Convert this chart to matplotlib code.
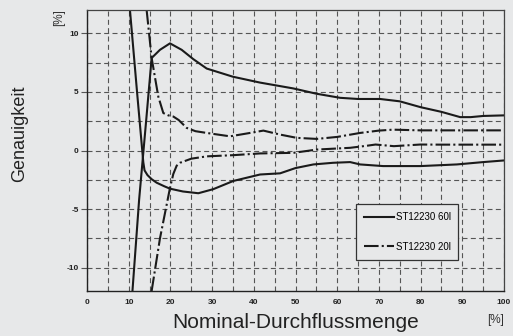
import matplotlib
matplotlib.use("Agg")
import matplotlib.pyplot as plt
from matplotlib.ticker import MultipleLocator

plt.rcParams['font.family'] = ['Liberation Sans', 'DejaVu Sans']

# ---- data ----
labels = ["ST12230 60l", "ST12230 20l"]

s60_up_x = [10.9, 12.5, 13.5, 14.2, 15.5, 17.5, 19.9, 22.7, 25.5, 28.7, 35.0, 41.5, 49.5, 55.0,
            60.7, 65.0, 70.3, 75.0, 80.0, 85.0, 89.5, 92.0, 95.0, 100.0]
s60_up_y = [-12.0, -4.2, -0.2, 2.6, 7.9, 8.6, 9.15, 8.6, 7.8, 7.0, 6.3, 5.8, 5.3, 4.85,
            4.5, 4.4, 4.4, 4.2, 3.7, 3.3, 2.85, 2.85, 2.95, 3.0]

s60_lo_x = [10.3, 12.0, 13.5, 13.8, 14.5, 15.5, 16.7, 18.5, 19.9, 23.0, 26.7, 30.3, 35.1,
            41.5, 46.3, 50.0, 54.3, 59.0, 63.1, 65.5, 71.0, 80.0, 88.7, 95.0, 100.0]
s60_lo_y = [12.0, 5.0, -1.0, -1.7, -2.1, -2.45, -2.75, -3.05, -3.26, -3.5, -3.65, -3.3, -2.6,
            -2.05, -1.95, -1.5, -1.19, -1.05, -0.99, -1.19, -1.33, -1.33, -1.19, -0.99, -0.85]

s20_up_x = [14.3, 15.5, 17.1, 18.3, 19.5, 20.7, 22.0, 23.9, 26.0, 28.7, 34.3, 39.1, 42.3,
            46.3, 50.3, 55.1, 60.0, 65.5, 70.0, 73.4, 80.0, 90.0, 100.0]
s20_up_y = [12.0, 7.9, 4.6, 3.2, 3.0, 2.9, 2.6, 1.93, 1.65, 1.5, 1.21, 1.5, 1.7,
            1.36, 1.08, 0.99, 1.16, 1.5, 1.7, 1.78, 1.72, 1.72, 1.72]

s20_lo_x = [15.5, 17.5, 19.9, 20.7, 21.5, 22.3, 25.0, 28.7, 35.0, 41.5, 49.5, 55.1, 63.1,
            67.0, 69.2, 73.6, 79.9, 85.0, 100.0]
s20_lo_y = [-12.0, -7.5, -3.2, -2.0, -1.3, -1.05, -0.7, -0.5, -0.4, -0.25, -0.2, 0.08, 0.23,
            0.4, 0.51, 0.37, 0.51, 0.5, 0.5]

x_ticks = [0, 10, 20, 30, 40, 50, 60, 70, 80, 90, 100]
y_ticks = [-10, -5, 0, 5, 10]

# ---- figure ----
bg = '#e7e8e9'
fig = plt.figure(figsize=(5.13, 3.36), dpi=100, facecolor=bg)
ax = fig.add_axes([87/513, 1 - 291/336, 417/513, 281/336], facecolor=bg)

dashdot = (0, (7, 1.5, 1, 1.5))
lw = 1.5
l1, = ax.plot(s60_up_x, s60_up_y, color='#1a1a1a', lw=lw, solid_joinstyle='round', label=labels[0])
ax.plot(s60_lo_x, s60_lo_y, color='#1a1a1a', lw=lw, solid_joinstyle='round')
l2, = ax.plot(s20_up_x, s20_up_y, color='#1a1a1a', lw=lw, linestyle=dashdot, label=labels[1])
ax.plot(s20_lo_x, s20_lo_y, color='#1a1a1a', lw=lw, linestyle=dashdot)

ax.set_xlim(0, 100)
ax.set_ylim(-12, 12)
ax.set_xticks(x_ticks)
ax.set_yticks(y_ticks)
ax.xaxis.set_minor_locator(MultipleLocator(5))
ax.yaxis.set_minor_locator(MultipleLocator(2.5))
ax.set_xticklabels([str(v) for v in x_ticks], fontsize=6, fontweight='bold', color='#222222')
ax.set_yticklabels([str(v) for v in y_ticks], fontsize=6, fontweight='bold', color='#222222')
ax.tick_params(axis='x', which='both', length=0, pad=6)
ax.tick_params(axis='y', which='major', length=4, width=0.8, color='#555555', pad=2)
ax.tick_params(axis='y', which='minor', length=0)

ax.grid(True, which='both', color='#555555', lw=0.8, linestyle=(0, (4.5, 3)))
ax.set_axisbelow(True)
for side in ['left', 'bottom']:
    ax.spines[side].set_color('#222222')
    ax.spines[side].set_linewidth(1.0)
for side in ['top', 'right']:
    ax.spines[side].set_color('#444444')
    ax.spines[side].set_linewidth(0.9)

leg = ax.legend(handles=[l1, l2], loc='upper left', bbox_to_anchor=(0.645, 0.11, 0.245, 0.2),
                mode='expand', borderaxespad=0, fontsize=7, handlelength=3.1,
                handletextpad=0.2, labelspacing=2.0, borderpad=0.85, fancybox=False,
                frameon=True, framealpha=1)
leg.get_frame().set_facecolor(bg)
leg.get_frame().set_edgecolor('#333333')
leg.get_frame().set_linewidth(0.9)
leg.set_zorder(5)

fig.text(20/513, 1 - 134/336, 'Genauigkeit', rotation=90, ha='center', va='center',
         fontsize=13, color='#222222')
fig.text(296/513, 1 - 322/336, 'Nominal-Durchflussmenge', ha='center', va='center',
         fontsize=15, color='#222222')
fig.text(59/513, 1 - 18/336, '[%]', rotation=90, ha='center', va='center', fontsize=8.5, color='#333333')
fig.text(496/513, 1 - 320/336, '[%]', ha='center', va='center', fontsize=8.5, color='#333333')

fig.savefig('out.png', dpi=100, facecolor=bg)
